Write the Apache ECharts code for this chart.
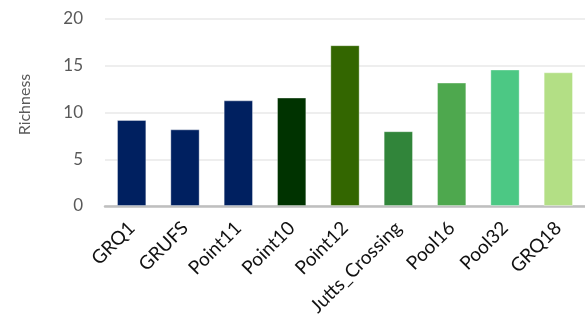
<!DOCTYPE html>
<html>
<head>
<meta charset="utf-8">
<script src="https://cdn.jsdelivr.net/npm/echarts@6/dist/echarts.min.js"></script>
<style>
  html, body { margin: 0; padding: 0; background: #ffffff; }
  #chart { width: 585px; height: 329px; }
</style>
</head>
<body>
<div id="chart"></div>
<script>
// Sites along the x axis
const sites = ['GRQ1', 'GRUFS', 'Point11', 'Point10', 'Point12', 'Jutts_Crossing', 'Pool16', 'Pool32', 'GRQ18'];
// Species richness per site
const richness = [9.2, 8.2, 11.3, 11.6, 17.2, 8.0, 13.2, 14.6, 14.3];
// Fill colour per site
const siteColors = ['#002060', '#002060', '#002060', '#003300', '#336600', '#31853a', '#4ea84e', '#4cc884', '#b3df85'];
// Y axis ticks
const yMin = 0, yMax = 20, yStep = 5;

const chart = echarts.init(document.getElementById('chart'));
chart.setOption({
  animation: false,
  grid: { left: 105, right: -5, top: 19, bottom: 123 },
  xAxis: {
    type: 'category',
    data: sites,
    axisTick: { show: false },
    axisLine: { lineStyle: { color: '#bfbfbf', width: 2.5 } },
    axisLabel: {
      interval: 0,
      rotate: 45,
      margin: 19,
      color: '#111111',
      fontFamily: 'Lato',
      fontSize: 19
    }
  },
  yAxis: {
    type: 'value',
    min: yMin,
    max: yMax,
    interval: yStep,
    name: 'Richness',
    nameLocation: 'middle',
    nameGap: 72,
    nameTextStyle: { color: '#595959', fontFamily: 'Lato', fontSize: 16, padding: [0, 0, 0, 16] },
    axisLine: { show: false },
    axisTick: { show: false },
    axisLabel: { color: '#595959', fontFamily: 'Lato', fontSize: 17, margin: 22 },
    splitLine: { lineStyle: { color: '#eeeeee', width: 2 } }
  },
  series: [{
    type: 'bar',
    barWidth: '55%',
    data: richness.map((v, i) => ({
      value: v,
      itemStyle: { color: siteColors[i], borderColor: 'rgba(255,255,255,0.35)', borderWidth: 1 }
    }))
  }]
});
</script>
</body>
</html>
